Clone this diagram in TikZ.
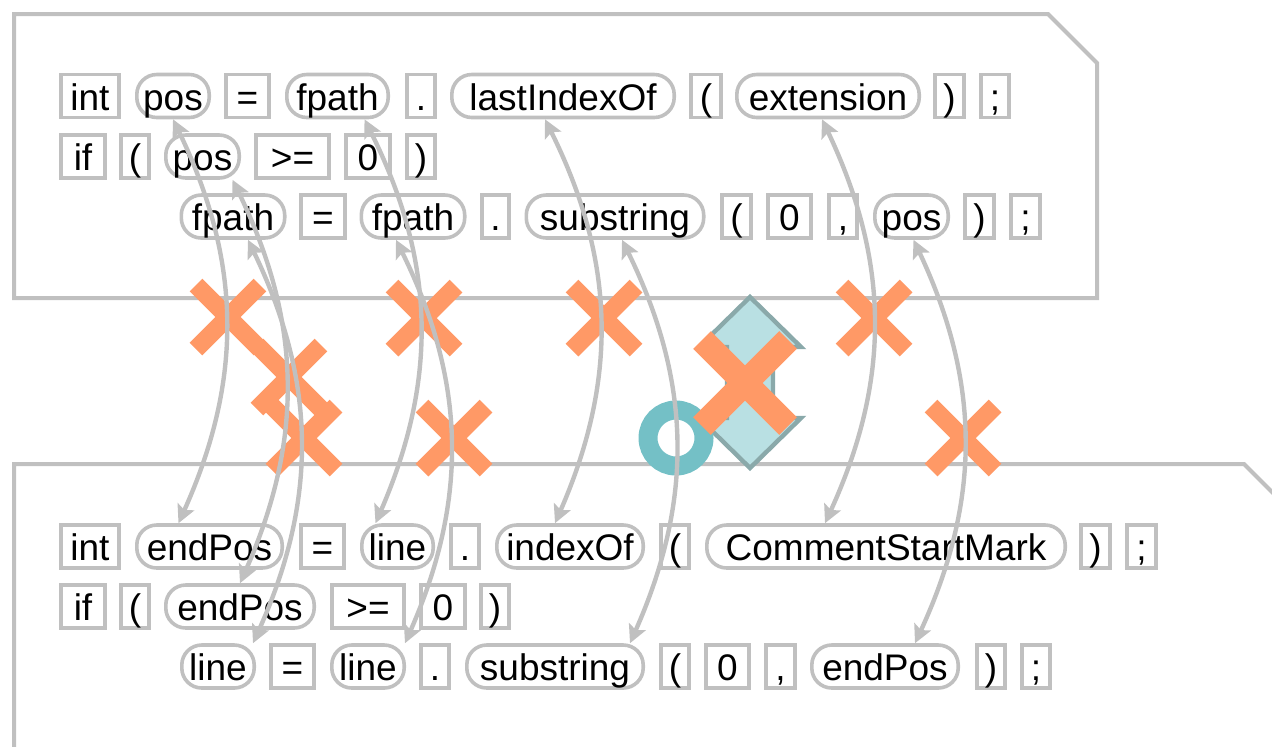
\documentclass[tikz,border=0pt]{standalone}
\usepackage{fontspec}
\setmainfont{Liberation Sans}
\usetikzlibrary{arrows.meta,calc}
\definecolor{TokGray}{HTML}{C0C0C0}
\definecolor{CrossOrange}{HTML}{FF9966}
\definecolor{RingTeal}{HTML}{74C0C6}
\definecolor{ShapeFill}{HTML}{B9E0E3}
\definecolor{ShapeEdge}{HTML}{8AA9AA}
\tikzset{
  fragbox/.style={draw=TokGray,line width=2pt},
  tok/.style={draw=TokGray,line width=1.8pt,inner sep=0pt,minimum height=21.5pt,
    text height=16pt,text depth=2pt,font=\fontsize{18.5pt}{20pt}\selectfont},
  punct/.style={tok},
  ident/.style={tok,rounded corners=10pt},
  link/.style={draw=TokGray,line width=2.2pt,bend left=25,
    {Stealth[length=9pt,width=9pt,inset=1.8pt]}-{Stealth[length=9pt,width=9pt,inset=1.8pt]}},
  cross/.style={draw=CrossOrange,line width=9pt},
}

\begin{document}
\begin{tikzpicture}[x=.5pt,y=-.5pt]
  \useasboundingbox (0,0) rectangle (1272,746);
  % the two fragments
  \draw[fragbox] (14,14) -- (1048,14) -- (1097,63) -- (1097,298) -- (14,298) -- cycle;
  \draw[fragbox] (14,760) -- (14,464) -- (1244,464) -- (1290,510);

  % upper fragment
  \foreach \n/\x/\w/\lbl/\sty in {A1/90/62/int/punct, A2/173/76/pos/ident, A3/247.5/47/=/punct,
      A4/337.5/105/fpath/ident, A5/421/32/./punct, A6/563/226/lastIndexOf/ident,
      A7/706/34/{(}/punct, A8/828/186/extension/ident, A9/949.5/33/{)}/punct, A10/995/32/{;}/punct}
    \node[\sty,minimum width=\w*.5pt-1.8pt] (\n) at (\x,96) {\lbl};
  \foreach \n/\x/\w/\lbl/\sty in {B1/83/48/if/punct, B2/135/32/{(}/punct, B3/202.5/77/pos/ident,
      B4/292.5/77/>=/punct, B5/368/48/0/punct, B6/421/32/{)}/punct}
    \node[\sty,minimum width=\w*.5pt-1.8pt] (\n) at (\x,156.5) {\lbl};
  \foreach \n/\x/\w/\lbl/\sty in {C1/233/107/fpath/ident, C2/323/48/=/punct, C3/413/107/fpath/ident,
      C4/495.5/31/./punct, C5/615/181/substring/ident, C6/736.5/33/{(}/punct, C7/789.5/47/0/punct,
      C8/843/32/{,}/punct, C9/911.5/77/pos/ident, C10/979.5/33/{)}/punct, C11/1025.5/33/{;}/punct}
    \node[\sty,minimum width=\w*.5pt-1.8pt] (\n) at (\x,216.5) {\lbl};

  % lower fragment
  \foreach \n/\x/\w/\lbl/\sty in {D1/90/62/int/punct, D2/209.5/149/endPos/ident, D3/322.5/47/=/punct,
      D4/397.5/75/line/ident, D5/465/32/./punct, D6/570/150/indexOf/ident, D7/675/32/{(}/punct,
      D8/886/362/CommentStartMark/ident, D9/1095.5/33/{)}/punct, D10/1141.5/33/{;}/punct}
    \node[\sty,minimum width=\w*.5pt-1.8pt] (\n) at (\x,546.5) {\lbl};
  \foreach \n/\x/\w/\lbl/\sty in {E1/83/48/if/punct, E2/135/32/{(}/punct, E3/240/152/endPos/ident,
      E4/368/76/>=/punct, E5/443/48/0/punct, E6/495/32/{)}/punct}
    \node[\sty,minimum width=\w*.5pt-1.8pt] (\n) at (\x,606.5) {\lbl};
  \foreach \n/\x/\w/\lbl/\sty in {F1/218/76/line/ident, F2/292.5/47/=/punct, F3/368/76/line/ident,
      F4/435/32/./punct, F5/555/180/substring/ident, F6/675/32/{(}/punct, F7/727.5/47/0/punct,
      F8/780.5/33/{,}/punct, F9/885/150/endPos/ident, F10/991/32/{)}/punct, F11/1036/32/{;}/punct}
    \node[\sty,minimum width=\w*.5pt-1.8pt] (\n) at (\x,666.5) {\lbl};

  % marks between the fragments
  \draw[draw=ShapeEdge,fill=ShapeFill,line width=2.2pt,line join=miter]
    (750,297) -- (801,347) -- (773,347) -- (773,418) -- (801,418) -- (750,468)
    -- (699,418) -- (727,418) -- (727,347) -- (699,347) -- cycle;
  \draw[RingTeal,line width=9.5pt] (676,438) circle[radius=28];
  \foreach \x/\y in {228/317,289/377,304/438,424/318,454/438,604/318,874/318,963/438}
    \draw[cross] (\x-32,\y-32) -- (\x+32,\y+32) (\x-32,\y+32) -- (\x+32,\y-32);
  \draw[cross,line width=12.5pt] (702,340) -- (788,426) (702,426) -- (788,340);

  % matched tokens
  \foreach \a/\da/\b/\db in {A2/0/D2/-31, B3/30/E3/0, C1/15/F1/35, A4/27/D4/-22, C3/-17/F3/37,
      A6/-18/D6/-15, C5/7/F5/75, A8/-6/D8/-61, C9/2/F9/30}
    \draw[link] ($(\a.south)+(\da,0)$) to ($(\b.north)+(\db,0)$);
\end{tikzpicture}
\end{document}
